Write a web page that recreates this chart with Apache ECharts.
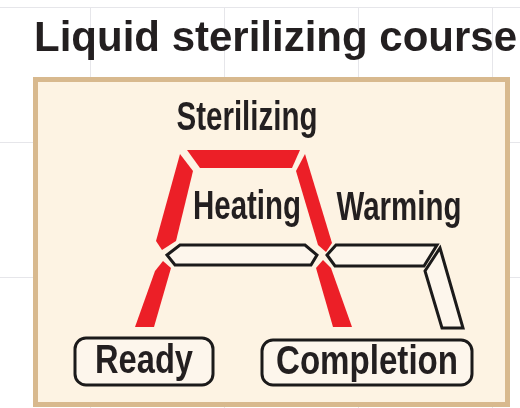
<!DOCTYPE html>
<html>
<head>
<meta charset="utf-8">
<style>
html, body { margin: 0; padding: 0; background: #fff; }
#main { width: 520px; height: 408px; }
</style>
<script src="https://cdn.jsdelivr.net/npm/echarts@6.0.0/dist/echarts.min.js"></script>
</head>
<body>
<div id="main"></div>
<script>
// diagram data, picture units (x to the right, y downwards)
var framePanel = [33, 77, 510, 407];

// lit (red) segments of the "A" display
var litSegments = [
	[[187, 150], [300, 150], [292, 168], [200, 168]],                 // sterilizing bar
	[[180, 154], [193, 171], [176, 241], [162, 250], [156, 241]],     // upper left
	[[163, 261], [171, 268], [154, 327], [135, 327], [155, 271]],     // lower left
	[[305, 154], [332, 243], [326, 252], [318, 245], [296, 171]],     // upper right
	[[323, 260], [331, 268], [352, 327], [333, 327], [316, 268]]      // lower right
];

// unlit (outlined) segments
var dimSegments = [
	[[167, 255], [180, 245], [305, 245], [317, 255], [311, 265], [175, 265]],  // heating
	[[327, 255], [336, 245], [437, 245], [424, 266], [335, 266]],              // warming bar
	[[440, 248], [463, 328], [442, 328], [425, 271]]                           // warming leg
];

var stageNames = ['Sterilizing', 'Heating', 'Warming'];
var stageAnchors = [[247, 119], [247, 208], [399, 209]];
var stageWidths = [141, 108, 125];

var statusNames = ['Ready', 'Completion'];
var statusBoxes = [[75, 338, 213, 385], [262, 340, 472, 385]];
var statusWidths = [98, 182];

var RED = '#ec1f27';
var INK = '#231f20';
var PANEL = '#fdf3e3';
var LABEL_FONT = 'bold 41px "Liberation Sans", Arial, sans-serif';

var measureCtx = document.createElement('canvas').getContext('2d');
function textWidth(txt){
	measureCtx.font = LABEL_FONT;
	return measureCtx.measureText(txt).width;
}

function textEl(p, txt, w){
	return {
		type : 'text',
		x : p[0], y : p[1],
		scaleX : w / textWidth(txt),
		style : { text : txt, font : LABEL_FONT, fill : INK, align : 'center', verticalAlign : 'middle' }
	};
}

function idx(list){
	var out = [];
	for(var i = 0; i < list.length; i++){ out.push([i, 0]); }
	return out;
}

var mychart = echarts.init(document.getElementById('main'));

var option = {
	animation : false,
	backgroundColor : '#fff',
	title : {
		text : 'Liquid sterilizing course',
		left : 29,
		top : 13,
		textStyle : {
			fontFamily : '"Liberation Sans", Arial, sans-serif',
			fontSize : 42,
			fontWeight : 'bold',
			color : INK
		}
	},
	grid : [
		{ left : -44, top : 7, width : 670, height : 405, outerBoundsMode : 'none' },
		{ left : 0, top : 0, right : 0, bottom : 0, outerBoundsMode : 'none' }
	],
	xAxis : [
		{
			gridIndex : 0, type : 'value', min : 0, max : 5, interval : 1,
			axisLine : { show : false }, axisTick : { show : false }, axisLabel : { show : false },
			splitLine : { lineStyle : { color : '#e6e6ea', width : 1 } }
		},
		{ gridIndex : 1, type : 'value', min : 0, max : 520, show : false }
	],
	yAxis : [
		{
			gridIndex : 0, type : 'value', min : 0, max : 3, interval : 1,
			axisLine : { show : false }, axisTick : { show : false }, axisLabel : { show : false },
			splitLine : { lineStyle : { color : '#e6e6ea', width : 1 } }
		},
		{ gridIndex : 1, type : 'value', min : 0, max : 408, inverse : true, show : false }
	],
	series : [
		{
			// panel
			type : 'custom', xAxisIndex : 1, yAxisIndex : 1,
			data : [[0, 0]],
			renderItem : function(params, api){
				var a = api.coord([framePanel[0], framePanel[1]]);
				var b = api.coord([framePanel[2], framePanel[3]]);
				return {
					type : 'rect',
					shape : { x : a[0] + 2.5, y : a[1] + 2.5, width : b[0] - a[0] - 5, height : b[1] - a[1] - 5 },
					style : { fill : PANEL, stroke : '#d8b98e', lineWidth : 5 }
				};
			}
		},
		{
			// lit segments
			type : 'custom', xAxisIndex : 1, yAxisIndex : 1,
			data : idx(litSegments),
			renderItem : function(params, api){
				var pts = litSegments[api.value(0)].map(function(p){ return api.coord(p); });
				return { type : 'polygon', shape : { points : pts }, style : { fill : RED } };
			}
		},
		{
			// unlit segments
			type : 'custom', xAxisIndex : 1, yAxisIndex : 1,
			data : idx(dimSegments),
			renderItem : function(params, api){
				var pts = dimSegments[api.value(0)].map(function(p){ return api.coord(p); });
				return {
					type : 'polygon', shape : { points : pts },
					style : { fill : '#fdf6ec', stroke : '#1b1a1a', lineWidth : 3, lineJoin : 'miter' }
				};
			}
		},
		{
			// status boxes
			type : 'custom', xAxisIndex : 1, yAxisIndex : 1,
			data : idx(statusNames),
			renderItem : function(params, api){
				var i = api.value(0);
				var bx = statusBoxes[i];
				var a = api.coord([bx[0], bx[1]]);
				var b = api.coord([bx[2], bx[3]]);
				var mid = api.coord([(bx[0] + bx[2]) / 2, (bx[1] + bx[3]) / 2]);
				return {
					type : 'group',
					children : [
						{
							type : 'rect',
							shape : { x : a[0], y : a[1], width : b[0] - a[0], height : b[1] - a[1], r : 11 },
							style : { fill : '#fdf6ec', stroke : '#1b1a1a', lineWidth : 3 }
						},
						textEl([mid[0], mid[1]], statusNames[i], statusWidths[i])
					]
				};
			}
		},
		{
			// stage names
			type : 'custom', xAxisIndex : 1, yAxisIndex : 1,
			data : idx(stageNames),
			renderItem : function(params, api){
				var i = api.value(0);
				return textEl(api.coord(stageAnchors[i]), stageNames[i], stageWidths[i]);
			}
		}
	]
};

mychart.setOption(option);
</script>
</body>
</html>
